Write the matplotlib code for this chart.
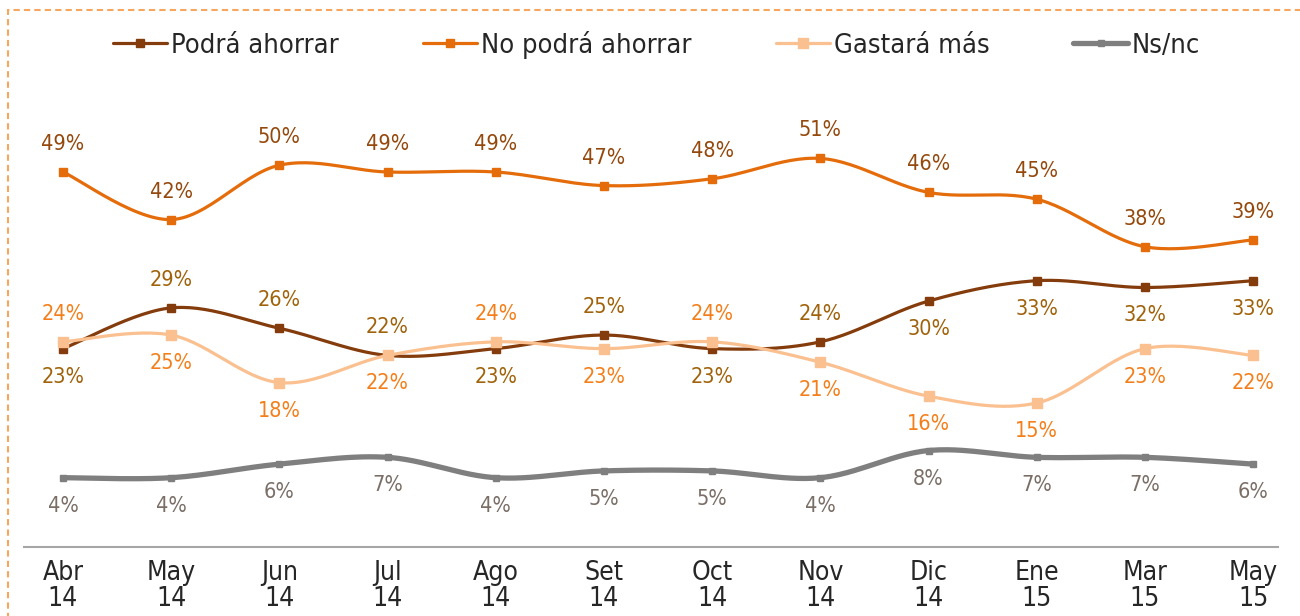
import numpy as np
import matplotlib
matplotlib.use("Agg")
import matplotlib.pyplot as plt
from matplotlib.patches import Rectangle
from matplotlib.lines import Line2D

plt.rcParams['font.family'] = ['DejaVu Sans']
plt.rcParams['font.stretch'] = 'condensed'

meses = ["Abr\n14", "May\n14", "Jun\n14", "Jul\n14", "Ago\n14", "Set\n14",
         "Oct\n14", "Nov\n14", "Dic\n14", "Ene\n15", "Mar\n15", "May\n15"]
podra_ahorrar = [23, 29, 26, 22, 23, 25, 23, 24, 30, 33, 32, 33]
no_podra_ahorrar = [49, 42, 50, 49, 49, 47, 48, 51, 46, 45, 38, 39]
gastara_mas = [24, 25, 18, 22, 24, 23, 24, 21, 16, 15, 23, 22]
ns_nc = [4, 4, 6, 7, 4, 5, 5, 4, 8, 7, 7, 6]


def suavizar(x, y, n=30):
    # curva tipo Excel (Catmull-Rom / bezier)
    x = np.asarray(x, float)
    y = np.asarray(y, float)
    px = np.concatenate([[x[0]], x, [x[-1]]])
    py = np.concatenate([[y[0]], y, [y[-1]]])
    xs, ys = [], []
    t = np.linspace(0, 1, n)
    for i in range(1, len(px) - 2):
        p0 = np.array([px[i], py[i]])
        p3 = np.array([px[i + 1], py[i + 1]])
        p1 = p0 + (np.array([px[i + 1], py[i + 1]]) - np.array([px[i - 1], py[i - 1]])) / 6
        p2 = p3 - (np.array([px[i + 2], py[i + 2]]) - np.array([px[i], py[i]])) / 6
        b = ((1 - t) ** 3)[:, None] * p0 + (3 * (1 - t) ** 2 * t)[:, None] * p1 \
            + (3 * (1 - t) * t ** 2)[:, None] * p2 + (t ** 3)[:, None] * p3
        xs.extend(b[:, 0])
        ys.extend(b[:, 1])
    return np.array(xs), np.array(ys)


fig = plt.figure(figsize=(13, 6.16), dpi=100)
ax = fig.add_axes([24 / 1300, 69 / 616, (1278 - 24) / 1300, 447 / 616])

x = np.arange(len(meses))
series = [
    ("Podrá ahorrar", podra_ahorrar, '#843C0C', 2.3, 5.5, '#A0620A'),
    ("No podrá ahorrar", no_podra_ahorrar, '#E46C0A', 2.3, 5.5, '#94480C'),
    ("Gastará más", gastara_mas, '#FAC090', 2.3, 6.5, '#F47F1A'),
    ("Ns/nc", ns_nc, '#7F7F7F', 3.8, 4, '#7A6E66'),
]

# posicion de etiquetas: 1 arriba, -1 abajo
pos = {
    "Podrá ahorrar": [-1, 1, 1, 1, -1, 1, -1, 1, -1, -1, -1, -1],
    "No podrá ahorrar": [1] * 12,
    "Gastará más": [1, -1, -1, -1, 1, -1, 1, -1, -1, -1, -1, -1],
    "Ns/nc": [-1] * 12,
}

handles = []
for nombre, vals, color, lw, ms, lcolor in series:
    sx, sy = suavizar(x, vals)
    ax.plot(sx, sy, color=color, lw=lw, solid_capstyle='round', zorder=3)
    ax.plot(x, vals, ls='none', marker='s', ms=ms, color=color, zorder=4)
    for xi, v, p in zip(x, vals, pos[nombre]):
        ax.annotate(f"{v}%", (xi, v), xytext=(0, 28 * p), textcoords='offset pixels',
                    ha='center', va='center', fontsize=15.5, color=lcolor)
    handles.append(Line2D([], [], color=color, lw=lw, marker='s', ms=ms,
                          solid_capstyle='round', label=nombre))

ax.set_xlim(-0.36, 11.23)
ax.set_ylim(-6.2, 59.6)
ax.set_yticks([])
ax.set_xticks(x)
ax.set_xticklabels(meses, fontsize=19, color='#262626', linespacing=1.05)
ax.tick_params(axis='x', length=0, pad=9)
for s in ['top', 'right', 'left']:
    ax.spines[s].set_visible(False)
ax.spines['bottom'].set_color('#A6A6A6')
ax.spines['bottom'].set_linewidth(1.5)

fig.legend(handles=handles, loc='center', bbox_to_anchor=(0.505, 0.927), ncol=4,
           frameon=False, fontsize=19.5, handlelength=2.0, handletextpad=0.15,
           columnspacing=3.1, labelcolor='#262626')

fig.patches.append(Rectangle((8 / 1300, -0.05), 1.2, 0.05 + 1 - 10 / 616,
                             transform=fig.transFigure, fill=False,
                             edgecolor='#F8A55E', lw=1.5, ls=(0, (3, 2))))

fig.savefig("out.png", dpi=100)
